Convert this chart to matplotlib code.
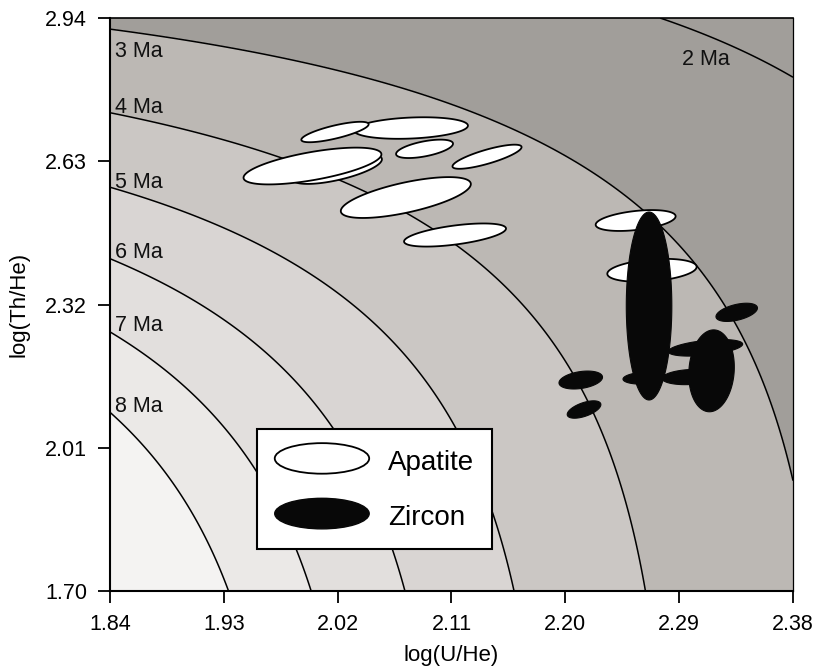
import numpy as np
import matplotlib.pyplot as plt
from matplotlib.patches import Ellipse
from matplotlib.legend_handler import HandlerPatch

plt.rcParams['font.family'] = ['Liberation Sans', 'DejaVu Sans']

# isochron ages (Ma) and fill bands
iso_ages = [2, 3, 4, 5, 6, 7, 8]
band_levels = [0, 3, 4, 5, 6, 7, 8, 60]
band_colors = ['#a19e9a', '#bcb8b4', '#cbc7c4', '#d9d5d3', '#e2dfdd', '#ebe9e7', '#f4f3f2']

age_labels = ['2 Ma', '3 Ma', '4 Ma', '5 Ma', '6 Ma', '7 Ma', '8 Ma']
label_x = [2.2922, 1.844, 1.844, 1.844, 1.844, 1.844, 1.844]
label_y = [2.8383, 2.8556, 2.7344, 2.5721, 2.4206, 2.2626, 2.0874]

# apatite grains: log(U/He), log(Th/He), 1s errors, correlation
ap_x = [2.0195, 2.0001, 2.0780, 2.0179, 2.0887, 2.1381, 2.0739, 2.1128, 2.2556, 2.2685]
ap_y = [2.6132, 2.6197, 2.7019, 2.6933, 2.6569, 2.6398, 2.5515, 2.4704, 2.5018, 2.3940]
ap_sx = [0.0355, 0.0545, 0.0450, 0.0266, 0.0225, 0.0273, 0.0514, 0.0403, 0.0316, 0.0353]
ap_sy = [0.0322, 0.0398, 0.0233, 0.0221, 0.0199, 0.0261, 0.0442, 0.0250, 0.0226, 0.0248]
ap_rho = [0.654, 0.634, 0.223, 0.756, 0.560, 0.798, 0.660, 0.560, 0.405, 0.301]

# zircon grains
zr_x = [2.2630, 2.2662, 2.2986, 2.3108, 2.3156, 2.3355, 2.2122, 2.2148]
zr_y = [2.1609, 2.3168, 2.1631, 2.2263, 2.1765, 2.3031, 2.1566, 2.0928]
zr_sx = [0.0174, 0.0180, 0.0221, 0.0294, 0.0180, 0.0164, 0.0172, 0.0133]
zr_sy = [0.0132, 0.2034, 0.0165, 0.0179, 0.0886, 0.0197, 0.0194, 0.0188]
zr_rho = [0.175, 0.0, 0.178, 0.448, 0.093, 0.471, 0.316, 0.568]

xticks = [1.84, 1.93, 2.02, 2.11, 2.20, 2.29, 2.38]
yticks = [1.70, 2.01, 2.32, 2.63, 2.94]

# decay constants (1/yr)
l238, l235, l232 = 1.55125e-10, 9.8485e-10, 4.9475e-11
f238, f235 = 137.88 / 138.88, 1.0 / 138.88


def he_age(x, y):
    U = 10 ** x
    Th = 10 ** y
    t = 1.0 / (U * (8 * f238 * l238 + 7 * f235 * l235) + Th * 6 * l232)
    for _ in range(8):
        e8, e5, e2 = np.exp(l238 * t), np.exp(l235 * t), np.exp(l232 * t)
        f = U * (8 * f238 * (e8 - 1) + 7 * f235 * (e5 - 1)) + Th * 6 * (e2 - 1) - 1
        df = U * (8 * f238 * l238 * e8 + 7 * f235 * l235 * e5) + Th * 6 * l232 * e2
        t = t - f / df
    return t / 1e6


def draw_ellipse(ax, cx, cy, sx, sy, rho, **kw):
    s = np.linspace(0, 2 * np.pi, 200)
    ex = cx + sx * np.cos(s)
    ey = cy + sy * (rho * np.cos(s) + np.sqrt(1 - rho ** 2) * np.sin(s))
    ax.fill(ex, ey, **kw)


class HandlerEllipse(HandlerPatch):
    def create_artists(self, legend, orig_handle, xdescent, ydescent, width, height, fontsize, trans):
        center = 0.5 * width - 0.5 * xdescent, 0.5 * height - 0.5 * ydescent
        p = Ellipse(xy=center, width=width + xdescent, height=height + ydescent)
        self.update_prop(p, orig_handle, legend)
        p.set_transform(trans)
        return [p]


fig = plt.figure(figsize=(8.14, 6.67), dpi=100)
ax = fig.add_axes([0.1351, 0.1139, 0.8391, 0.8591])

gx = np.linspace(xticks[0], xticks[-1], 500)
gy = np.linspace(yticks[0], yticks[-1], 500)
X, Y = np.meshgrid(gx, gy)
age = he_age(X, Y)

ax.contourf(X, Y, age, levels=band_levels, colors=band_colors, zorder=0)
ax.contour(X, Y, age, levels=iso_ages, colors='black', linewidths=1.1, zorder=1)

for i in range(len(ap_x)):
    draw_ellipse(ax, ap_x[i], ap_y[i], ap_sx[i], ap_sy[i], ap_rho[i],
                 facecolor='white', edgecolor='black', linewidth=1.3, zorder=2)
for i in range(len(zr_x)):
    draw_ellipse(ax, zr_x[i], zr_y[i], zr_sx[i], zr_sy[i], zr_rho[i],
                 facecolor='#080808', edgecolor='#080808', linewidth=0.8, zorder=3)

for txt, lx, ly in zip(age_labels, label_x, label_y):
    ax.text(lx, ly, txt, fontsize=15.5, ha='left', va='baseline', color='#111111', zorder=4)

ax.set_xlim(xticks[0], xticks[-1])
ax.set_ylim(yticks[0], yticks[-1])
ax.set_xticks(xticks)
ax.set_xticklabels(['%.2f' % v for v in xticks])
ax.set_yticks(yticks)
ax.set_yticklabels(['%.2f' % v for v in yticks])
ax.tick_params(direction='out', length=8.5, width=1.3, labelsize=15.5, pad=8)
ax.set_xlabel('log(U/He)', fontsize=16, labelpad=7)
ax.set_ylabel('log(Th/He)', fontsize=16, labelpad=11)
ax.spines['left'].set_linewidth(1.5)
ax.spines['bottom'].set_linewidth(1.5)
ax.spines['top'].set_linewidth(1.2)
ax.spines['right'].set_linewidth(0.9)

handles = [Ellipse((0, 0), 1, 1, facecolor='white', edgecolor='black', linewidth=1.3),
           Ellipse((0, 0), 1, 1, facecolor='#080808', edgecolor='#080808')]
leg = ax.legend(handles, ['Apatite', 'Zircon'], handler_map={Ellipse: HandlerEllipse()},
                loc='lower left', bbox_to_anchor=(0.2148, 0.0733), borderaxespad=0,
                fontsize=20, handlelength=3.4, handleheight=1.1, handletextpad=0.68,
                labelspacing=0.95, borderpad=0.65, frameon=True, fancybox=False,
                edgecolor='black', framealpha=1)
leg.get_frame().set_linewidth(1.5)
leg.set_zorder(5)

plt.savefig('out.png', dpi=100)
